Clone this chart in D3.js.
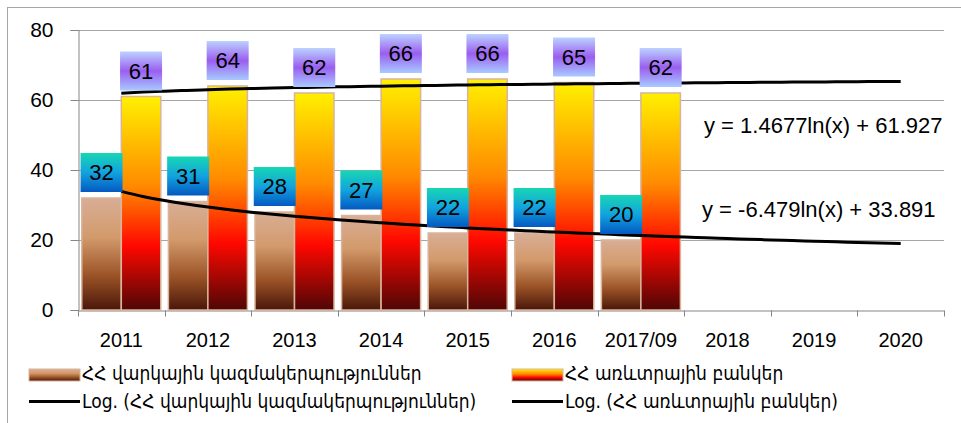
<!DOCTYPE html>
<html>
<head>
<meta charset="utf-8">
<title>Credit organisations and banks</title>
<script src="https://d3js.org/d3.v7.min.js"></script>
<style>
  body { margin: 0; background: #fff; }
  text { font-family: "Liberation Sans", Arial, sans-serif; fill: #000; }
  .leg text { font-family: "DejaVu Sans Condensed", "DejaVu Sans", sans-serif; }
</style>
</head>
<body>
<svg id="chart" width="961" height="423"></svg>
<script>
// data
var years = ['2011','2012','2013','2014','2015','2016','2017/09','2018','2019','2020'];
var creditOrgs = [32, 31, 28, 27, 22, 22, 20];
var banks = [61, 64, 62, 66, 66, 65, 62];
var yTicks = [0, 20, 40, 60, 80];
var seriesNames = ['ՀՀ վարկային կազմակերպություններ', 'ՀՀ առևտրային բանկեր'];
var trendNames = ['Log. (ՀՀ վարկային կազմակերպություններ)', 'Log. (ՀՀ առևտրային բանկեր)'];
// log trendline coefficients y = a*ln(x) + b, as printed on the chart
var trendA = [-6.479, 1.4677];
var trendB = [33.891, 61.927];
var equations = ['y = -6.479ln(x) + 33.891', 'y = 1.4677ln(x) + 61.927'];

var svg = d3.select('#chart');
var plotL = 78, plotR = 944, plotT = 30, plotB = 310;

// outer chart border (right/bottom fall outside the picture)
svg.append('rect').attr('x', 7.5).attr('y', 7.5).attr('width', 960).attr('height', 420)
  .attr('fill', 'none').attr('stroke', '#a6a6a6');

var defs = svg.append('defs');
function grad(id, stops) {
  var g = defs.append('linearGradient').attr('id', id)
    .attr('x1', 0).attr('y1', 0).attr('x2', 0).attr('y2', 1);
  stops.forEach(function(s) {
    g.append('stop').attr('offset', s[0]).attr('stop-color', s[1]);
  });
}
grad('gBrown', [[0, '#d8ae96'], [0.35, '#d39a6b'], [0.7, '#9a5226'], [1, '#4a170a']]);
grad('gFire', [[0, '#fff000'], [0.42, '#ff8a00'], [0.7, '#ff0800'], [1, '#4f0606']]);
grad('gTeal', [[0, '#17d6b4'], [0.5, '#12a3de'], [1, '#0459c2']]);
grad('gViolet', [[0, '#bcd2ff'], [0.5, '#9a5ef0'], [1, '#a8caff']]);

var x = d3.scaleBand().domain(years).range([plotL, plotR]);
var xs = d3.scaleBand().domain([0, 1]).range([0, x.bandwidth()]).paddingOuter(0.096);
var y = d3.scaleLinear().domain([0, 80]).range([plotB, plotT]);
// continuous x for trendlines: category index 1..10 at band centres
var xi = d3.scaleLinear().domain([0.5, years.length + 0.5]).range([plotL, plotR]);

// gridlines
svg.append('g').selectAll('line').data(yTicks.slice(1)).enter().append('line')
  .attr('x1', plotL).attr('x2', plotR)
  .attr('y1', function(d) { return Math.round(y(d)) + 0.5; })
  .attr('y2', function(d) { return Math.round(y(d)) + 0.5; })
  .attr('stroke', '#a6a6a6');

// axes
var yAxis = d3.axisLeft(y).tickValues(yTicks).tickSize(8).tickPadding(17);
var gy = svg.append('g').attr('transform', 'translate(' + (plotL + 0.5) + ',0)').call(yAxis);
gy.select('.domain').attr('stroke', '#868686');
gy.selectAll('.tick line').attr('stroke', '#868686');
gy.selectAll('text').style('font-size', '21px').attr('fill', '#000');

var xAxis = d3.axisBottom(x).tickSize(0).tickPadding(22);
var gx = svg.append('g').attr('transform', 'translate(0,' + (plotB + 0.5) + ')').call(xAxis);
gx.select('.domain').attr('stroke', '#868686');
gx.selectAll('text').style('font-size', '20px').attr('fill', '#000');
gx.selectAll('.bound').data(d3.range(years.length + 1)).enter().append('line')
  .attr('x1', function(i) { return Math.round(plotL + i * x.step()) + 0.5; })
  .attr('x2', function(i) { return Math.round(plotL + i * x.step()) + 0.5; })
  .attr('y1', 0).attr('y2', 6).attr('stroke', '#868686');

// bars
var series = [
  { vals: creditOrgs, fill: 'url(#gBrown)', label: 'url(#gTeal)' },
  { vals: banks, fill: 'url(#gFire)', label: 'url(#gViolet)' }
];
series.forEach(function(s, k) {
  svg.append('g').selectAll('rect').data(s.vals).enter().append('rect')
    .attr('x', function(d, i) { return x(years[i]) + xs(k); })
    .attr('y', function(d) { return y(d); })
    .attr('width', xs.bandwidth())
    .attr('height', function(d) { return plotB - y(d); })
    .attr('fill', s.fill)
    .attr('stroke', '#d9b49a').attr('stroke-width', 1.5);
});

// trendlines
var line = d3.line().curve(d3.curveMonotoneX)
  .x(function(p) { return xi(p[0]); })
  .y(function(p) { return y(p[1]); });
trendA.forEach(function(a, k) {
  var pts = d3.range(1, years.length + 0.001, 0.25).map(function(t) {
    return [t, a * Math.log(t) + trendB[k]];
  });
  svg.append('path').datum(pts).attr('d', line)
    .attr('fill', 'none').attr('stroke', '#000').attr('stroke-width', 3);
});

// data labels
series.forEach(function(s, k) {
  var g = svg.append('g').selectAll('g').data(s.vals).enter().append('g')
    .attr('transform', function(d, i) {
      var cx = x(years[i]) + xs(k) + xs.bandwidth() / 2;
      return 'translate(' + cx + ',' + (y(d) - 6) + ')';
    });
  g.append('rect').attr('x', -21).attr('y', -39).attr('width', 42).attr('height', 39)
    .attr('fill', s.label);
  g.append('text').attr('text-anchor', 'middle').attr('y', -12)
    .style('font-size', '22px').text(function(d) { return d; });
});

// equations
svg.append('text').attr('x', 704).attr('y', 133).style('font-size', '22px').text(equations[1]);
svg.append('text').attr('x', 702).attr('y', 217).style('font-size', '22px').text(equations[0]);

// legend
var leg = svg.append('g').attr('class', 'leg');
var legX = [29, 512];
[0, 1].forEach(function(k) {
  leg.append('rect').attr('x', legX[k]).attr('y', 369).attr('width', 51).attr('height', 12)
    .attr('fill', series[k].fill).attr('stroke', '#d9b49a');
  leg.append('text').attr('x', legX[k] + 53).attr('y', 380).style('font-size', '19px')
    .text(seriesNames[k]);
  leg.append('line').attr('x1', legX[k]).attr('x2', legX[k] + 51).attr('y1', 401.5).attr('y2', 401.5)
    .attr('stroke', '#000').attr('stroke-width', 3);
  leg.append('text').attr('x', legX[k] + 53).attr('y', 408).style('font-size', '19px')
    .text(trendNames[k]);
});
</script>
</body>
</html>
